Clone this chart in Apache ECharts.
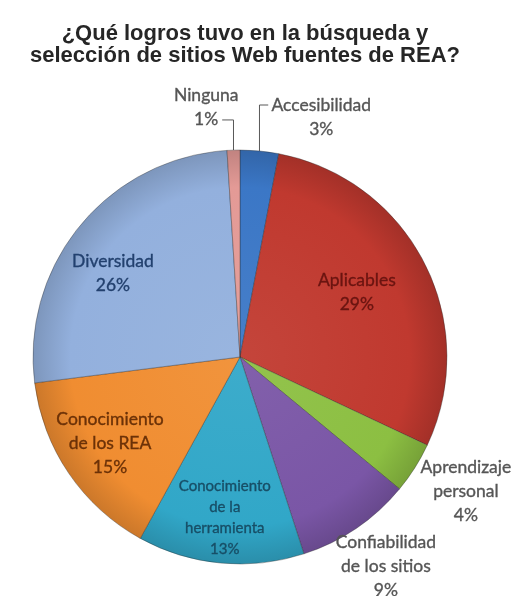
<!DOCTYPE html>
<html>
<head>
<meta charset="utf-8">
<script src="https://cdn.jsdelivr.net/npm/echarts@6/dist/echarts.min.js"></script>
<style>
  html, body { margin: 0; padding: 0; background: #ffffff; }
  #chart { width: 516px; height: 596px; }
</style>
</head>
<body>
<div id="chart"></div>
<script>
// ---- data ----
const titleText = '¿Qué logros tuvo en la búsqueda y\nselección de sitios Web fuentes de REA?';
const categories = [
  'Accesibilidad',
  'Aplicables',
  'Aprendizaje personal',
  'Confiabilidad de los sitios',
  'Conocimiento de la herramienta',
  'Conocimiento de los REA',
  'Diversidad',
  'Ninguna'
];
const labelNames = [
  'Accesibilidad',
  'Aplicables',
  'Aprendizaje\npersonal',
  'Confiabilidad\nde los sitios',
  'Conocimiento\nde la\nherramienta',
  'Conocimiento\nde los REA',
  'Diversidad',
  'Ninguna'
];
const percents = [3, 29, 4, 9, 13, 15, 26, 1];

// ---- styling ----
const sliceColors = ['#3b77c6', '#c0392f', '#8cbf42', '#7a56a6', '#31a7c8', '#f08d31', '#93b0dd', '#e39a96'];
const labelColors = ['#555555', '#6a1410', '#555555', '#555555', '#174e66', '#6b3107', '#22406e', '#555555'];
const labelInside = [false, true, false, false, true, true, true, false];
const labelLeader = [true, false, false, false, false, false, false, true];
const labelRadius = [1.224, 0.646, 1.269, 1.232, 0.781, 0.753, 0.736, 1.219];
const labelTurn = [13.3, -2.1, -1.7, -0.7, 0, 0.7, -6.1, -5.9];
const labelFont = [17.5, 17.5, 17.5, 17.5, 15, 17.5, 17.5, 17.5];
const labelLH = [24, 24, 24, 24, 21, 24, 24, 24];

const CX = 240, CY = 357, R = 207;

// mid angle of each slice, clockwise from 12 o'clock
const total = percents.reduce((s, v) => s + v, 0);
const midAngles = [];
let acc = 0;
percents.forEach(v => { midAngles.push((acc + v / 2) / total * 360); acc += v; });

function shade(hex, f) {
  const n = parseInt(hex.slice(1), 16);
  let r = (n >> 16) & 255, g = (n >> 8) & 255, b = n & 255;
  const t = f < 0 ? 0 : 255, p = Math.abs(f);
  r = Math.round((t - r) * p + r); g = Math.round((t - g) * p + g); b = Math.round((t - b) * p + b);
  return 'rgb(' + r + ',' + g + ',' + b + ')';
}

const pieData = categories.map((name, i) => ({
  name: name,
  value: percents[i],
  itemStyle: {
    color: {
      type: 'radial', x: CX, y: CY, r: R, global: true,
      colorStops: [
        { offset: 0, color: shade(sliceColors[i], 0.06) },
        { offset: 0.82, color: sliceColors[i] },
        { offset: 1, color: shade(sliceColors[i], -0.15) }
      ]
    }
  },
  label: {
    position: labelInside[i] ? 'inside' : 'outside',
    color: labelColors[i],
    textBorderColor: labelColors[i],
    textBorderWidth: 0.35,
    fontSize: labelFont[i],
    lineHeight: labelLH[i]
  },
  labelLine: { show: labelLeader[i] }
}));

const chart = echarts.init(document.getElementById('chart'), null, { renderer: 'canvas' });

chart.setOption({
  backgroundColor: '#ffffff',
  animation: false,
  title: {
    text: titleText,
    left: 240,
    top: 18,
    textAlign: 'center',
    textStyle: {
      fontFamily: 'Liberation Sans',
      fontWeight: 'bold',
      fontSize: 22,
      lineHeight: 22,
      color: '#262626'
    }
  },
  series: [{
    type: 'pie',
    center: [CX, CY],
    radius: R,
    startAngle: 90,
    clockwise: true,
    avoidLabelOverlap: false,
    data: pieData,
    itemStyle: {
      borderColor: 'rgba(40,40,40,0.45)',
      borderWidth: 0.8
    },
    label: {
      fontFamily: 'Lato',
      formatter: p => labelNames[p.dataIndex] + '\n' + p.value + '%'
    },
    labelLine: {
      lineStyle: { color: '#595959', width: 1 }
    },
    labelLayout: function (params) {
      const i = params.dataIndex;
      const a = (midAngles[i] + labelTurn[i]) * Math.PI / 180;
      const x = CX + labelRadius[i] * R * Math.sin(a);
      const y = CY - labelRadius[i] * R * Math.cos(a);
      const out = { x: x, y: y, align: 'center', verticalAlign: 'middle' };
      if (labelLeader[i]) {
        const m = midAngles[i] * Math.PI / 180;
        const p0 = [CX + R * Math.sin(m), CY - R * Math.cos(m)];
        let elbowY, endX;
        if (Math.sin(m) < 0) {
          elbowY = y + 13;
          endX = x + 16;
        } else {
          elbowY = y - 12;
          endX = x - params.labelRect.width / 2 - 3;
        }
        out.labelLinePoints = [p0, [p0[0], elbowY], [endX, elbowY]];
      }
      return out;
    },
    emphasis: { disabled: true }
  }]
});
</script>
</body>
</html>
